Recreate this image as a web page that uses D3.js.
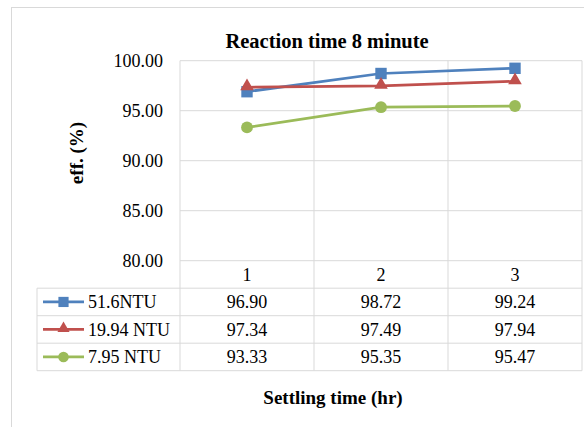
<!DOCTYPE html>
<html>
<head>
<meta charset="utf-8">
<script src="https://cdn.jsdelivr.net/npm/d3@7"></script>
</head>
<body style="margin:0; background:#fff">
<svg id="chart" width="584" height="427"></svg>
<script>
// data
const categories = ["1", "2", "3"];
const seriesNames = ["51.6NTU", "19.94 NTU", "7.95 NTU"];
const seriesValues = [
    [96.90, 98.72, 99.24],
    [97.34, 97.49, 97.94],
    [93.33, 95.35, 95.47]
];
const seriesColors = ["#4F81BD", "#C0504D", "#9BBB59"];
const seriesMarkers = [d3.symbolSquare, d3.symbolTriangle, d3.symbolCircle];
const markerSizes = [130, 80, 110];
const yTicks = [80, 85, 90, 95, 100];

let svg = d3.select("#chart");
let gridColor = "#D9D9D9";
let font = "Liberation Serif";

// layout
let plotLeft = 180, plotRight = 582, plotTop = 60.7, plotBottom = 260.7;
let rowH = 27.5;
let tableLeft = 37;

let x = d3.scaleBand().domain(categories).range([plotLeft, plotRight]);
let y = d3.scaleLinear().domain([80, 100]).range([plotBottom, plotTop]);

/**
 * Adds a text element with the chart's font
 */
function addText(parent, str, size, bold) {
    return parent.append("text")
        .attr("font-family", font)
        .attr("font-size", size)
        .attr("font-weight", bold ? "bold" : "normal")
        .attr("fill", "#000")
        .attr("dy", "0.35em")
        .text(str);
}

// chart border
svg.append("rect")
    .attr("x", 11.5).attr("y", 7.5)
    .attr("width", 620).attr("height", 440)
    .attr("fill", "none")
    .attr("stroke", gridColor);

// horizontal grid
svg.append("g").selectAll("line")
    .data(yTicks)
    .join("line")
    .attr("x1", plotLeft).attr("x2", plotRight)
    .attr("y1", d => y(d)).attr("y2", d => y(d))
    .attr("stroke", gridColor);

// y tick labels
svg.append("g").selectAll("text")
    .data(yTicks)
    .join("text")
    .attr("x", 163)
    .attr("y", d => y(d))
    .attr("dy", "0.35em")
    .attr("text-anchor", "end")
    .attr("font-family", font)
    .attr("font-size", 18)
    .text(d => d3.format(".2f")(d));

// table rows: header + one per series
let tableBottom = plotBottom + rowH * (seriesNames.length + 1);
let bounds = categories.map(c => x(c)).concat([plotRight]);
svg.append("g").selectAll("line")
    .data(bounds)
    .join("line")
    .attr("x1", d => d).attr("x2", d => d)
    .attr("y1", plotTop).attr("y2", tableBottom)
    .attr("stroke", gridColor);

let rowLines = d3.range(seriesNames.length + 1).map(i => plotBottom + rowH * (i + 1));
svg.append("g").selectAll("line")
    .data(rowLines)
    .join("line")
    .attr("x1", tableLeft).attr("x2", plotRight)
    .attr("y1", d => d).attr("y2", d => d)
    .attr("stroke", gridColor);
svg.append("line")
    .attr("x1", tableLeft).attr("x2", tableLeft)
    .attr("y1", plotBottom + rowH).attr("y2", tableBottom)
    .attr("stroke", gridColor);

// category labels
svg.append("g").selectAll("text")
    .data(categories)
    .join("text")
    .attr("x", d => x(d) + x.bandwidth() / 2)
    .attr("y", plotBottom + rowH / 2)
    .attr("dy", "0.35em")
    .attr("text-anchor", "middle")
    .attr("font-family", font)
    .attr("font-size", 18)
    .text(d => d);

// series lines + markers + table rows
let line = d3.line()
    .x((d, i) => x(categories[i]) + x.bandwidth() / 2)
    .y(d => y(d));

seriesNames.forEach(function (name, s) {
    let g = svg.append("g");
    g.append("path")
        .datum(seriesValues[s])
        .attr("d", line)
        .attr("fill", "none")
        .attr("stroke", seriesColors[s])
        .attr("stroke-width", 2.75);

    let size = markerSizes[s];
    let dyMark = s === 1 ? -1 : 0;
    g.selectAll("path.marker")
        .data(seriesValues[s])
        .join("path")
        .attr("class", "marker")
        .attr("d", d3.symbol().type(seriesMarkers[s]).size(size))
        .attr("transform", (d, i) => "translate(" + (x(categories[i]) + x.bandwidth() / 2) + "," + (y(d) + dyMark) + ")")
        .attr("fill", seriesColors[s]);

    let rowY = plotBottom + rowH * (s + 1) + rowH / 2;

    // legend key
    g.append("line")
        .attr("x1", 43).attr("x2", 84)
        .attr("y1", rowY).attr("y2", rowY)
        .attr("stroke", seriesColors[s])
        .attr("stroke-width", 2.75);
    g.append("path")
        .attr("d", d3.symbol().type(seriesMarkers[s]).size(size * 0.8))
        .attr("transform", "translate(63.5," + (rowY + dyMark) + ")")
        .attr("fill", seriesColors[s]);
    addText(g, name, 18, false)
        .attr("x", 88)
        .attr("y", rowY);

    g.selectAll("text.val")
        .data(seriesValues[s])
        .join("text")
        .attr("class", "val")
        .attr("x", (d, i) => x(categories[i]) + x.bandwidth() / 2)
        .attr("y", rowY)
        .attr("dy", "0.35em")
        .attr("text-anchor", "middle")
        .attr("font-family", font)
        .attr("font-size", 18)
        .text(d => d3.format(".2f")(d));
});

// titles
addText(svg, "Reaction time 8 minute", 20.5, true)
    .attr("x", 327).attr("y", 41)
    .attr("text-anchor", "middle");

addText(svg, "eff. (%)", 19, true)
    .attr("transform", "translate(76,153) rotate(-90)")
    .attr("text-anchor", "middle");

addText(svg, "Settling time (hr)", 19, true)
    .attr("x", 333).attr("y", 397)
    .attr("text-anchor", "middle");
</script>
</body>
</html>
